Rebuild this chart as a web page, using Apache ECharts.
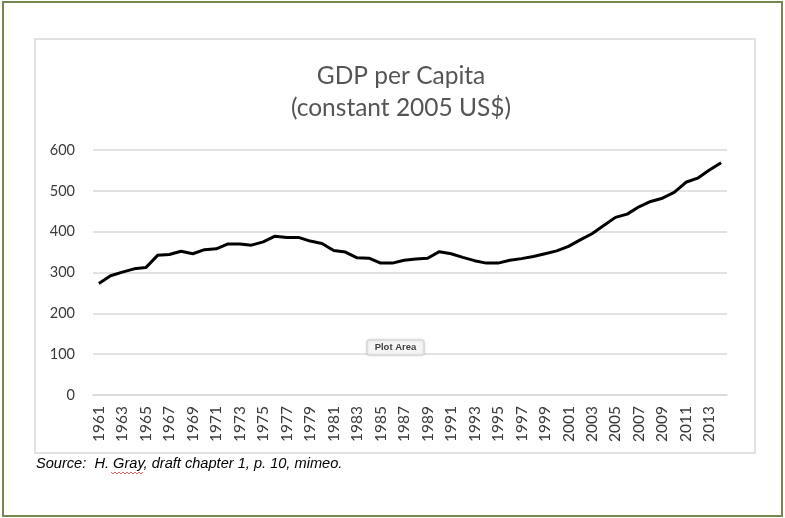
<!DOCTYPE html>
<html>
<head>
<meta charset="utf-8">
<script src="https://cdn.jsdelivr.net/npm/echarts@6/dist/echarts.min.js"></script>
<style>
html,body{margin:0;padding:0;background:#fff;}
#chart{width:785px;height:518px;}
</style>
</head>
<body>
<div id="chart"></div>
<script>
const years = [];
for (let y = 1961; y <= 2014; y++) years.push(String(y));
const gdpPerCapita = [
  273, 292, 301, 309, 312, 342, 344, 352, 346, 356,
  358, 370, 370, 367, 375, 389, 386, 386, 377, 371,
  354, 350, 336, 335, 323, 323, 330, 333, 335, 351,
  346, 337, 329, 323, 323, 330, 334, 339, 346, 353,
  364, 380, 395, 415, 435, 443, 461, 474, 482, 496,
  521, 531, 551, 569
];
const yTicks = [0, 100, 200, 300, 400, 500, 600];
const titleLines = ['GDP per Capita', '(constant 2005 US$)'];
const sourceText = 'Source:  H. Gray, draft chapter 1, p. 10, mimeo.';

const squiggle = [];
for (let i = 0; i <= 16; i++) squiggle.push([111 + i * 2, i % 2 ? 474 : 472]);

const chart = echarts.init(document.getElementById('chart'), null, {renderer: 'canvas'});
chart.setOption({
  animation: false,
  backgroundColor: '#ffffff',
  title: {
    text: titleLines.join('\n'),
    left: 396, top: 55, textAlign: 'center',
    textStyle: {fontFamily: 'Lato', fontWeight: 'normal', fontSize: 24.5, lineHeight: 32, color: '#555555'}
  },
  grid: {left: 93, right: 58, top: 150, bottom: 123},
  xAxis: {
    type: 'category', data: years, boundaryGap: true,
    axisLine: {show: true, lineStyle: {color: '#d9d9d9', width: 1.5}},
    axisTick: {show: false},
    axisLabel: {rotate: 90, interval: 1, margin: 11, fontFamily: 'Lato', fontSize: 15.5, color: '#3a3a3a'}
  },
  yAxis: {
    type: 'value', min: yTicks[0], max: yTicks[yTicks.length - 1], interval: 100,
    axisLine: {show: false}, axisTick: {show: false},
    axisLabel: {margin: 18, fontFamily: 'Lato', fontSize: 14.5, color: '#3a3a3a'},
    splitLine: {lineStyle: {color: '#d9d9d9', width: 1.5}}
  },
  series: [{
    type: 'line', data: gdpPerCapita, showSymbol: false,
    lineStyle: {color: '#000000', width: 3}, itemStyle: {color: '#000'}
  }],
  graphic: [
    {type: 'rect', shape: {x: 3, y: 2, width: 779, height: 514}, style: {fill: 'none', stroke: '#75864f', lineWidth: 2}, z: -10},
    {type: 'rect', shape: {x: 35, y: 39, width: 720, height: 414}, style: {fill: 'none', stroke: '#d9d9d9', lineWidth: 1.5}, z: -9},
    {type: 'text', left: 36, top: 456, style: {text: sourceText, font: 'italic 14.6px "Liberation Sans", Arial, sans-serif', fill: '#000'}},
    {type: 'polyline', shape: {points: squiggle}, style: {stroke: '#d04040', lineWidth: 0.8, fill: 'none'}},
    {type: 'rect', shape: {x: 367, y: 340, width: 57, height: 15, r: 2}, style: {fill: '#f5f5f5', stroke: '#cfcfcf', lineWidth: 1, shadowBlur: 3, shadowColor: 'rgba(0,0,0,0.15)'}, z: 50},
    {type: 'text', x: 395.5, y: 347.5, style: {text: 'Plot Area', font: 'bold 9.5px "Liberation Sans", Arial, sans-serif', fill: '#404040', align: 'center', verticalAlign: 'middle'}, z: 51}
  ]
});
</script>
</body>
</html>
